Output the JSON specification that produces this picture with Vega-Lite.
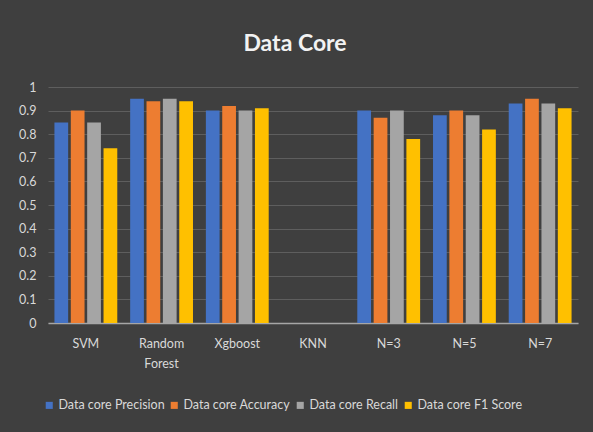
{
  "$schema": "https://vega.github.io/schema/vega-lite/v6.json",
  "width": 530,
  "height": 236,
  "autosize": {"type": "none"},
  "padding": {"left": 48, "top": 87, "right": 15, "bottom": 109},
  "background": "#3f3f3f",
  "title": {
    "text": "Data Core",
    "anchor": "middle",
    "dx": -18,
    "offset": 25,
    "font": "Lato",
    "fontSize": 23,
    "fontWeight": "bold",
    "color": "#f2f2f2"
  },
  "data": {
    "values": [
      {"model": "SVM", "metric": "Data core Precision", "value": 0.85},
      {"model": "SVM", "metric": "Data core Accuracy", "value": 0.90},
      {"model": "SVM", "metric": "Data core Recall", "value": 0.85},
      {"model": "SVM", "metric": "Data core F1 Score", "value": 0.74},
      {"model": "Random Forest", "metric": "Data core Precision", "value": 0.95},
      {"model": "Random Forest", "metric": "Data core Accuracy", "value": 0.94},
      {"model": "Random Forest", "metric": "Data core Recall", "value": 0.95},
      {"model": "Random Forest", "metric": "Data core F1 Score", "value": 0.94},
      {"model": "Xgboost", "metric": "Data core Precision", "value": 0.90},
      {"model": "Xgboost", "metric": "Data core Accuracy", "value": 0.92},
      {"model": "Xgboost", "metric": "Data core Recall", "value": 0.90},
      {"model": "Xgboost", "metric": "Data core F1 Score", "value": 0.91},
      {"model": "KNN", "metric": "Data core Precision", "value": null},
      {"model": "KNN", "metric": "Data core Accuracy", "value": null},
      {"model": "KNN", "metric": "Data core Recall", "value": null},
      {"model": "KNN", "metric": "Data core F1 Score", "value": null},
      {"model": "N=3", "metric": "Data core Precision", "value": 0.90},
      {"model": "N=3", "metric": "Data core Accuracy", "value": 0.87},
      {"model": "N=3", "metric": "Data core Recall", "value": 0.90},
      {"model": "N=3", "metric": "Data core F1 Score", "value": 0.78},
      {"model": "N=5", "metric": "Data core Precision", "value": 0.88},
      {"model": "N=5", "metric": "Data core Accuracy", "value": 0.90},
      {"model": "N=5", "metric": "Data core Recall", "value": 0.88},
      {"model": "N=5", "metric": "Data core F1 Score", "value": 0.82},
      {"model": "N=7", "metric": "Data core Precision", "value": 0.93},
      {"model": "N=7", "metric": "Data core Accuracy", "value": 0.95},
      {"model": "N=7", "metric": "Data core Recall", "value": 0.93},
      {"model": "N=7", "metric": "Data core F1 Score", "value": 0.91}
    ]
  },
  "mark": {"type": "bar"},
  "encoding": {
    "x": {
      "field": "model",
      "type": "nominal",
      "sort": ["SVM", "Random Forest", "Xgboost", "KNN", "N=3", "N=5", "N=7"],
      "scale": {"paddingInner": 0.17, "paddingOuter": 0.085},
      "axis": {
        "title": null,
        "labelAngle": 0,
        "labelFont": "Lato",
        "labelFontSize": 12.5,
        "labelColor": "#d9d9d9",
        "labelPadding": 14,
        "labelExpr": "datum.label == 'Random Forest' ? ['Random', 'Forest'] : datum.label",
        "labelLineHeight": 20,
        "ticks": false,
        "domainColor": "#a6a6a6",
        "domainWidth": 1.5,
        "grid": false
      }
    },
    "xOffset": {
      "field": "metric",
      "type": "nominal",
      "sort": ["Data core Precision", "Data core Accuracy", "Data core Recall", "Data core F1 Score"],
      "scale": {"paddingInner": 0.16}
    },
    "y": {
      "field": "value",
      "type": "quantitative",
      "scale": {"domain": [0, 1]},
      "axis": {
        "title": null,
        "values": [0, 0.1, 0.2, 0.3, 0.4, 0.5, 0.6, 0.7, 0.8, 0.9, 1],
        "format": ".1~f",
        "labelFont": "Lato",
        "labelFontSize": 12.5,
        "labelColor": "#d9d9d9",
        "labelPadding": 12,
        "ticks": false,
        "domain": false,
        "gridColor": "#5e5e5e",
        "gridWidth": 1
      }
    },
    "color": {
      "field": "metric",
      "type": "nominal",
      "sort": ["Data core Precision", "Data core Accuracy", "Data core Recall", "Data core F1 Score"],
      "scale": {
        "domain": ["Data core Precision", "Data core Accuracy", "Data core Recall", "Data core F1 Score"],
        "range": ["#4472C4", "#ED7D31", "#A5A5A5", "#FFC000"]
      },
      "legend": {
        "title": null,
        "orient": "none",
        "legendX": -5,
        "legendY": 312,
        "direction": "horizontal",
        "columns": 4,
        "columnPadding": 3,
        "symbolType": "square",
        "symbolSize": 50,
        "symbolOffset": 0,
        "labelOffset": 3,
        "labelFont": "Lato",
        "labelFontSize": 12.5,
        "labelColor": "#d9d9d9",
        "labelLimit": 200
      }
    }
  },
  "config": {"view": {"stroke": null}}
}
